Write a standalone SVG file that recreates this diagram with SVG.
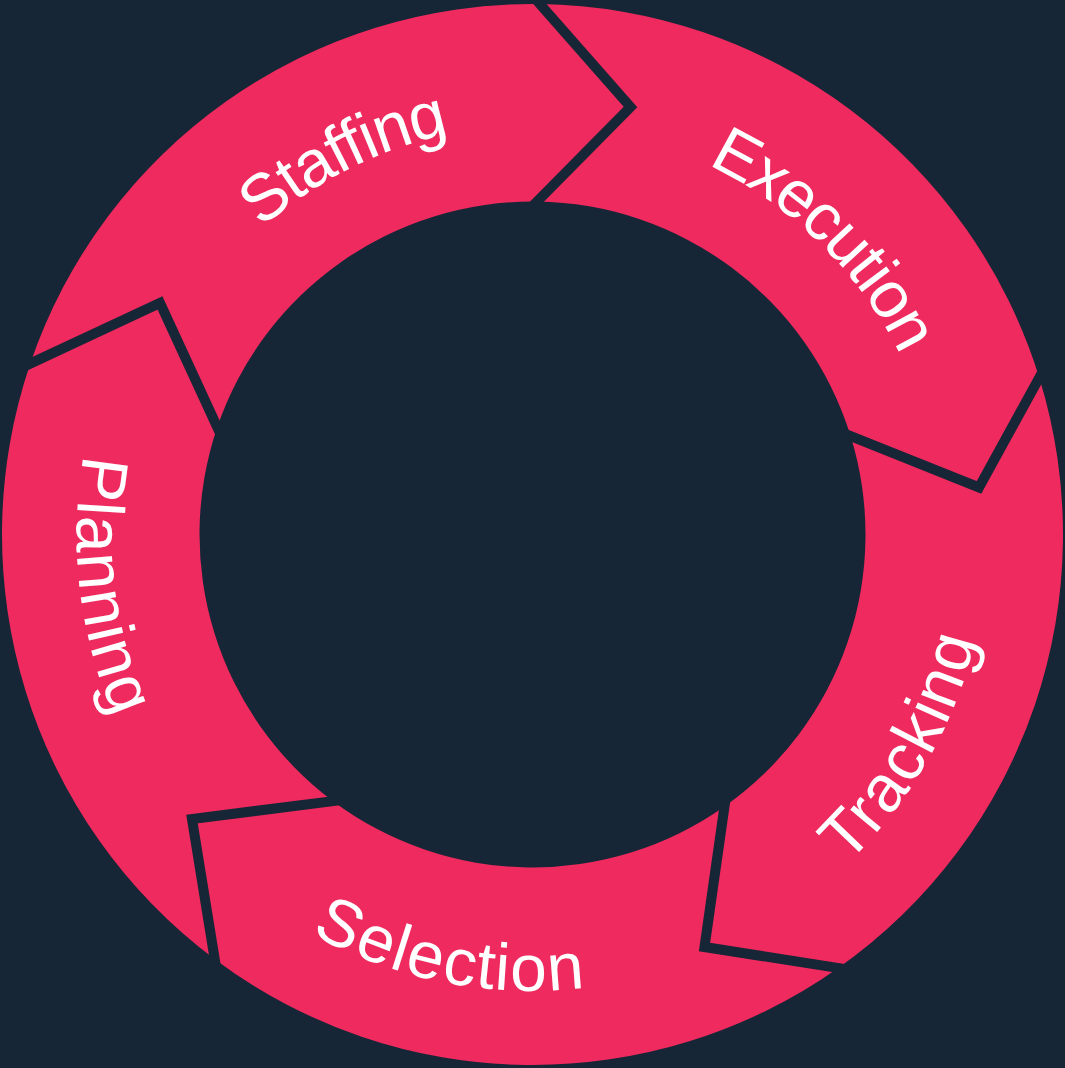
<svg xmlns="http://www.w3.org/2000/svg" width="1065" height="1068" viewBox="0 0 1065 1068">
  <style>
    .seg { fill: #EF2A5E; }
    .sep { fill: none; stroke: #162636; stroke-width: 10; stroke-linejoin: miter; stroke-miterlimit: 10; }
    .lbl { fill: #FFFFFF; font-family: "Liberation Sans", Arial, sans-serif; font-size: 66px; text-anchor: middle; dominant-baseline: central; }
  </style>
  <defs>
    <path id="arcTop" d="M 532.5 102.5 A 432 432 0 1 1 532.5 966.5 A 432 432 0 1 1 532.5 102.5"/>
    <path id="arcBottom" d="M 158.38 318.5 A 432 432 0 1 0 906.62 750.5 A 432 432 0 1 0 158.38 318.5"/>
  </defs>
  <rect width="1065" height="1068" fill="#162636"/>
  <g id="execution">
    <path class="seg" d="M 539.91 4.05 A 530.5 530.5 0 0 1 1039.28 377.63 L 979 487.5 L 850.61 436.03 A 333 333 0 0 0 537.15 201.53 L 630.5 107 Z"/>
    <text class="lbl"><textPath href="#arcTop" startOffset="337">Execution</textPath></text>
  </g>
  <g id="tracking">
    <path class="seg" d="M 1039.28 377.63 A 530.5 530.5 0 0 1 838.30 967.99 L 704.5 947 L 724.45 806.61 A 333 333 0 0 0 850.61 436.03 L 979 487.5 Z"/>
    <text class="lbl"><textPath href="#arcBottom" startOffset="1360.9">Tracking</textPath></text>
  </g>
  <g id="selection">
    <path class="seg" d="M 838.30 967.99 A 530.5 530.5 0 0 1 214.72 959.29 L 192 819 L 333.03 801.14 A 333 333 0 0 0 724.45 806.61 L 704.5 947 Z"/>
    <text class="lbl"><textPath href="#arcBottom" startOffset="822">Selection</textPath></text>
  </g>
  <g id="planning">
    <path class="seg" d="M 214.72 959.29 A 530.5 530.5 0 0 1 30.30 363.54 L 160 303 L 217.27 427.19 A 333 333 0 0 0 333.03 801.14 L 192 819 Z"/>
    <text class="lbl"><textPath href="#arcBottom" startOffset="277.5">Planning</textPath></text>
  </g>
  <g id="staffing">
    <path class="seg" d="M 30.30 363.54 A 530.5 530.5 0 0 1 539.91 4.05 L 630.5 107 L 537.15 201.53 A 333 333 0 0 0 217.27 427.19 L 160 303 Z"/>
    <text class="lbl"><textPath href="#arcTop" startOffset="2513.8">Staffing</textPath></text>
  </g>
  <g id="connectors">
    <polyline class="sep" points="531.98,-4.96 630.5,107 528.72,210.07"/>
    <polyline class="sep" points="1045.05,367.11 979,487.5 839.47,431.56"/>
    <polyline class="sep" points="850.15,969.85 704.5,947 726.14,794.73"/>
    <polyline class="sep" points="216.64,971.14 192,819 344.93,799.63"/>
    <polyline class="sep" points="19.43,368.62 160,303 222.3,438.09"/>
  </g>
</svg>
